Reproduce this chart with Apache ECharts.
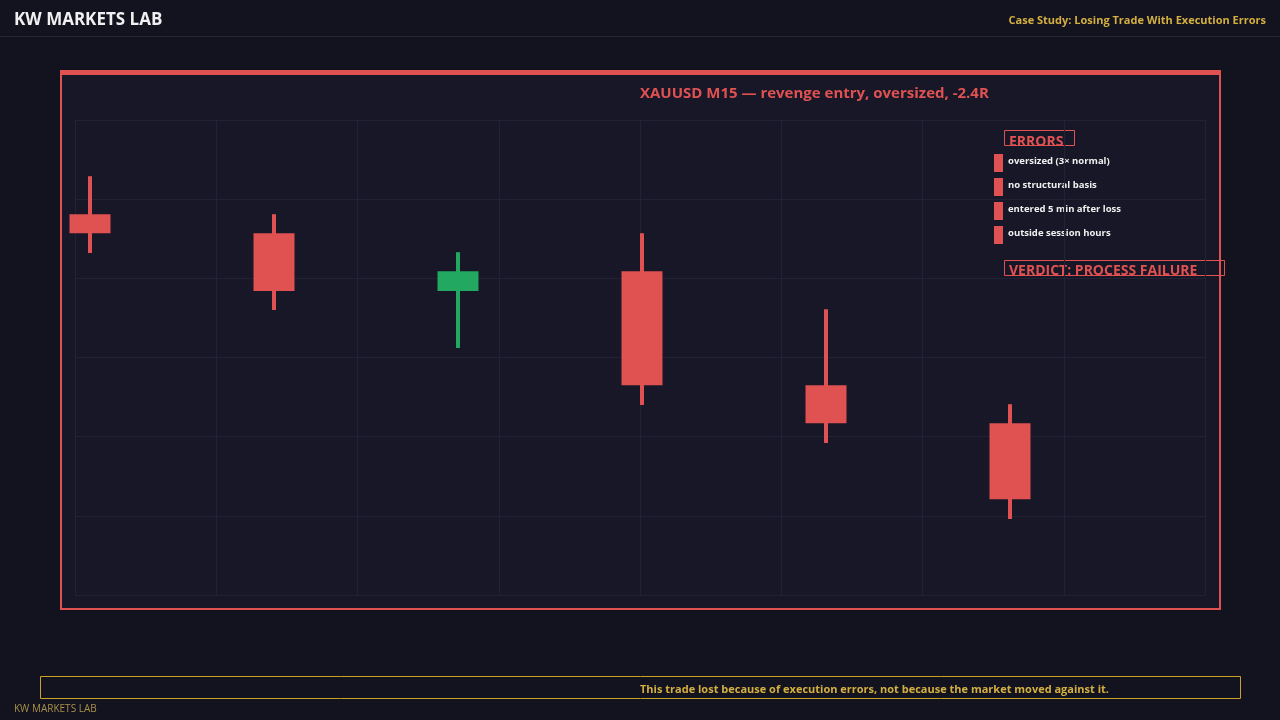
<!DOCTYPE html>
<html><head><meta charset="utf-8">
<script src="https://cdn.jsdelivr.net/npm/echarts@6/dist/echarts.min.js"></script>
<style>html,body{margin:0;padding:0;background:#13121f;}#c{width:1280px;height:720px;}</style>
</head><body><div id="c"></div>
<script>
// candles: [open, close, low, high]
var candles = [
  [4.81, 4.57, 4.32, 5.29],
  [4.57, 3.84, 3.60, 4.81],
  [3.84, 4.09, 3.12, 4.33],
  [4.09, 2.65, 2.40, 4.57],
  [2.65, 2.17, 1.92, 3.61],
  [2.17, 1.21, 0.96, 2.41]
];
var errors = ['oversized (3\u00d7 normal)', 'no structural basis', 'entered 5 min after loss', 'outside session hours'];
var RED = '#e05252', GREEN = '#22a860', GOLD = '#d4b040';

var chart = echarts.init(document.getElementById('c'));
var F = 'Open Sans, Noto Sans, sans-serif';
var g = [
  {type:'text', left:14, top:12, style:{text:'KW MARKETS LAB', fill:'#f0f0f0', font:'bold 17px '+F}},
  {type:'text', right:14, top:15, style:{text:'Case Study: Losing Trade With Execution Errors', fill:GOLD, font:'bold 11px '+F}},
  {type:'line', shape:{x1:0,y1:36.5,x2:1280,y2:36.5}, style:{stroke:'#26253a', lineWidth:1}},
  {type:'rect', z:-1, shape:{x:61,y:72,width:1159,height:537}, style:{fill:'#171727', stroke:RED, lineWidth:2}},
  {type:'rect', shape:{x:60,y:70,width:1161,height:5}, style:{fill:RED}},
  {type:'text', left:640, top:86, style:{text:'XAUUSD M15 \u2014 revenge entry, oversized, -2.4R', fill:RED, font:'bold 15px '+F}},
  {type:'rect', shape:{x:1004.5,y:130.5,width:70,height:15}, style:{fill:'none', stroke:RED, lineWidth:1}},
  {type:'text', left:1009, top:135, style:{text:'ERRORS', fill:RED, font:'bold 14px '+F}},
  {type:'rect', shape:{x:1004.5,y:260.5,width:220,height:15}, style:{fill:'none', stroke:RED, lineWidth:1}},
  {type:'text', left:1009, top:264, style:{text:'VERDICT: PROCESS FAILURE', fill:RED, font:'bold 14px '+F}},
  {type:'rect', shape:{x:40.5,y:676.5,width:1200,height:22}, style:{fill:'none', stroke:'#c9a227', lineWidth:1}},
  {type:'text', left:640, top:684, style:{text:'This trade lost because of execution errors, not because the market moved against it.', fill:GOLD, font:'bold 11px '+F}},
  {type:'text', left:14, top:704, style:{text:'KW MARKETS LAB', fill:'#a8914a', font:'10px '+F}}
];
errors.forEach(function(t, i){
  g.push({type:'rect', shape:{x:994,y:154+i*24,width:9,height:18}, style:{fill:RED}});
  g.push({type:'text', left:1008, top:156+i*24, style:{text:t, fill:'#f0f0f0', font:'bold 9.5px '+F}});
});

chart.setOption({
  backgroundColor:'#13121f',
  animation:false,
  graphic:g,
  grid:{left:75, right:75, top:120, bottom:125},
  xAxis:[
    {type:'value', min:-15/184, max:1115/184, show:false},
    {type:'value', min:0, max:8, interval:1, axisLine:{show:false}, axisTick:{show:false}, axisLabel:{show:false},
     splitLine:{show:true, lineStyle:{color:'#222236'}}}
  ],
  yAxis:{type:'value', min:0, max:6, interval:1, axisLine:{show:false}, axisTick:{show:false}, axisLabel:{show:false},
    splitLine:{show:true, lineStyle:{color:'#222236'}}},
  series:[{
    type:'custom', xAxisIndex:0,
    data:candles.map(function(c, i){ return [i].concat(c); }),
    renderItem:function(params, api){
      var x = api.value(0), o = api.value(1), cl = api.value(2), lo = api.value(3), hi = api.value(4);
      var pO = api.coord([x,o]), pC = api.coord([x,cl]), pL = api.coord([x,lo]), pH = api.coord([x,hi]);
      var col = cl >= o ? GREEN : RED;
      var top = Math.min(pO[1], pC[1]), h = Math.abs(pO[1]-pC[1]);
      return {type:'group', children:[
        {type:'rect', shape:{x:pH[0]-2, y:pH[1], width:4, height:pL[1]-pH[1]}, style:{fill:col}},
        {type:'rect', shape:{x:pO[0]-20.5, y:top, width:41, height:h}, style:{fill:col}}
      ]};
    }
  }]
});
</script></body></html>
